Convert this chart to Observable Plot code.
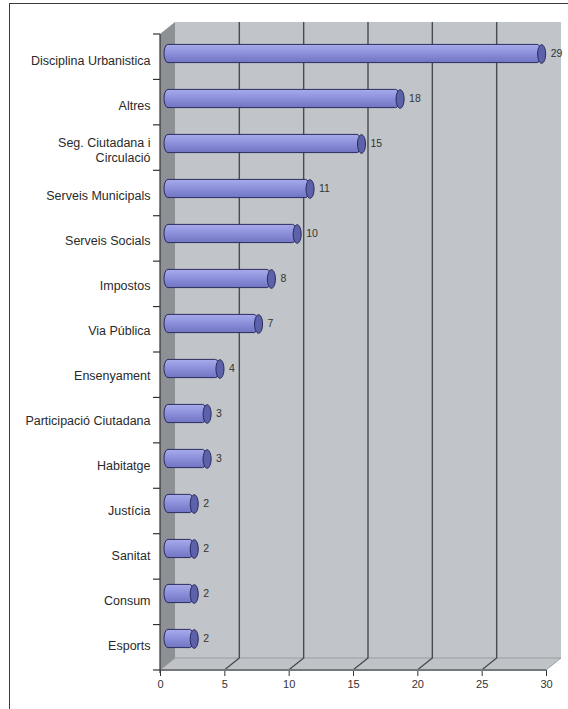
<!DOCTYPE html>
<html>
<head>
<meta charset="utf-8">
<script src="https://cdn.jsdelivr.net/npm/d3@7"></script>
<script src="https://cdn.jsdelivr.net/npm/@observablehq/plot@0.6"></script>
<style>
  html, body { margin: 0; padding: 0; background: #fff; overflow: hidden; }
  #wrap { position: relative; width: 568px; height: 709px; }
  #border { position: absolute; left: 9px; top: 3px; width: 620px; height: 760px;
    border-left: 1.5px solid #3a3a3a; border-top: 1.5px solid #3a3a3a; pointer-events: none; }
</style>
</head>
<body>
<div id="wrap"><div id="border"></div></div>
<script>
const categories = ["Disciplina Urbanistica", "Altres", "Seg. Ciutadana i\nCirculació", "Serveis Municipals",
  "Serveis Socials", "Impostos", "Via Pública", "Ensenyament", "Participació Ciutadana", "Habitatge",
  "Justícia", "Sanitat", "Consum", "Esports"];
const values = [29, 18, 15, 11, 10, 8, 7, 4, 3, 3, 2, 2, 2, 2];
const xTicks = [0, 5, 10, 15, 20, 25, 30];

const data = categories.map((c, i) => ({cat: c, value: values[i]}));

const DX = 15, DY = -12;      // depth of the 3D box
const BX = 8, BY = -6;        // bars sit half-way back

function defs() {
  const d = d3.create("svg:defs");
  const g = d.append("linearGradient").attr("id", "cyl").attr("x1", 0).attr("y1", 0).attr("x2", 0).attr("y2", 1);
  g.append("stop").attr("offset", "0%").attr("stop-color", "#a7abeb");
  g.append("stop").attr("offset", "45%").attr("stop-color", "#8e92dc");
  g.append("stop").attr("offset", "100%").attr("stop-color", "#7074c2");
  return d.node();
}

function decor(index, scales, values, dim) {
  const x = scales.x;
  const L = dim.marginLeft, R = dim.width - dim.marginRight;
  const T = dim.marginTop, B = dim.height - dim.marginBottom;
  const g = d3.create("svg:g");
  // back wall
  g.append("rect").attr("x", L + DX).attr("y", T + DY).attr("width", R - L).attr("height", B - T)
    .attr("fill", "#c1c5c9");
  // floor
  g.append("path").attr("d", `M${L},${B}L${R},${B}L${R + DX},${B + DY}L${L + DX},${B + DY}Z`)
    .attr("fill", "#bfc3c7").attr("stroke", "#9a9ea2").attr("stroke-width", 1);
  // left wall
  g.append("path").attr("d", `M${L},${T}L${L + DX},${T + DY}L${L + DX},${B + DY}L${L},${B}Z`)
    .attr("fill", "#8d9195");
  // grid lines
  for (const v of xTicks.slice(1, -1)) {
    const xv = x(v);
    g.append("path").attr("d", `M${xv + DX},${T + DY}L${xv + DX},${B + DY}L${xv},${B}`)
      .attr("fill", "none").attr("stroke", "#464c53").attr("stroke-width", 1.4);
  }
  // front floor edge
  g.append("line").attr("x1", L).attr("x2", R).attr("y1", B).attr("y2", B)
    .attr("stroke", "#74787c").attr("stroke-width", 2);
  // left axis line
  g.append("line").attr("x1", L).attr("x2", L).attr("y1", T).attr("y2", B + 3)
    .attr("stroke", "#333").attr("stroke-width", 1.2);
  // band boundary ticks
  const n = categories.length;
  for (let i = 0; i <= n; i++) {
    const yy = T + i * (B - T) / n;
    g.append("line").attr("x1", L - 7).attr("x2", L).attr("y1", yy).attr("y2", yy)
      .attr("stroke", "#333").attr("stroke-width", 1.2);
  }
  return g.node();
}

const capSymbol = {
  draw(ctx) {
    const rx = 4, ry = 9.3, k = 0.5523;
    ctx.moveTo(0, -ry);
    ctx.bezierCurveTo(rx * k, -ry, rx, -ry * k, rx, 0);
    ctx.bezierCurveTo(rx, ry * k, rx * k, ry, 0, ry);
    ctx.bezierCurveTo(-rx * k, ry, -rx, ry * k, -rx, 0);
    ctx.bezierCurveTo(-rx, -ry * k, -rx * k, -ry, 0, -ry);
    ctx.closePath();
  }
};

const chart = Plot.plot({
  width: 568,
  height: 709,
  marginLeft: 160,
  marginRight: 22,
  marginTop: 34,
  marginBottom: 39,
  style: {fontFamily: "'Liberation Sans', Arial, sans-serif", fontSize: "11px", color: "#333", background: "transparent"},
  x: {domain: [0, 30], ticks: xTicks, tickSize: 6, tickPadding: 4, label: null},
  y: {domain: categories, padding: 0, axis: null, label: null},
  marks: [
    defs,
    decor,
    Plot.barX(data, {x: "value", y: "cat", dx: BX, dy: BY, insetTop: 13.4, insetBottom: 13.4, insetLeft: -4,
      rx: 4, ry: 9, fill: "url(#cyl)", stroke: "#2c2c5e", strokeWidth: 1}),
    Plot.dot(data, {x: "value", y: "cat", dx: BX, dy: BY, symbol: capSymbol, r: 5,
      fill: "#5d61a9", stroke: "#28285a", strokeWidth: 1}),
    Plot.text(data, {x: "value", y: "cat", text: d => String(d.value), dx: BX + 9, dy: BY,
      textAnchor: "start", fontSize: 10.5, fill: "#333"}),
    Plot.text(data, {y: "cat", text: "cat", frameAnchor: "left", dx: -10, textAnchor: "end",
      fontSize: 12.5, lineHeight: 1.15, fill: "#2a2a2a"})
  ]
});
document.getElementById("wrap").insertBefore(chart, document.getElementById("border"));
</script>
</body>
</html>
